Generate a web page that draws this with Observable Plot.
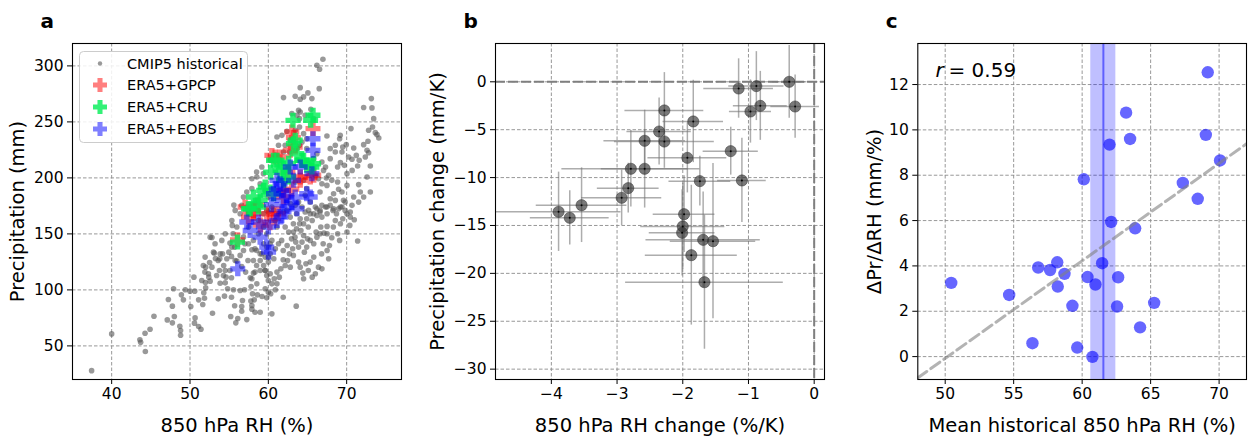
<!DOCTYPE html>
<html><head><meta charset="utf-8">
<script src="https://cdn.jsdelivr.net/npm/d3@7"></script>
<script src="https://cdn.jsdelivr.net/npm/@observablehq/plot@0.6"></script>
<style>
body{margin:0;background:#fff;}
#wrap{position:relative;width:1250px;height:437px;font-family:"DejaVu Sans";}
.panel{position:absolute;top:0;}
</style></head><body><div id="wrap"></div>
<script>
// ---------- Panel a data: [850 hPa RH (%), precipitation (mm)] ----------
const cmip5 = [
[37.44,27.9],[40.0,60.7],[43.7,53.3],[43.6,55.5],[44.3,45.0],[44.26,61.3],[44.9,64.9],[45.4,76.5],[47.1,73.2],[47.75,70.6],[48.0,76.2],[47.75,85.5],[47.24,91.4],[47.9,101],[48.9,95.6],[49.16,91.1],[48.7,67.6],[48.8,63.7],[48.8,59.5],[49.4,100.1],[50.1,85.2],[50.5,111.4],[50.65,75.0],[50.57,70.3],[51.1,67.3],[51.4,64.9],[51.1,91.1],[51.76,97.4],[51.85,92.6],[51.63,87.0],[50.0,98.9],[50.6,98.9],[52.0,101.8],[51.97,106.6],[51.9,115.9],[52.4,111.4],[52.57,107.8],[52.87,79.2],[52.8,146.8],[53.1,132.8],[52.5,124.5],[52.0,120.3],[53.4,112.9],[53.6,92.0],[54.15,132.2],[54.3,121.8],[54.5,106.3],[54.4,94.4],[54.6,111.4],[53.85,106.0],[54.8,101],[55.2,76.2],[55.3,93.5],[55.3,110.8],[55.55,100.1],[55.7,85.8],[55.85,70.6],[56.1,74.4],[56.4,99.5],[56.7,90.5],[56.6,81],[56.96,100.1],[56.6,85.2],[57.25,73.5],[57.77,90],[57.9,82.8],[57.98,96.5],[57.8,103],[54.96,133.7],[55.3,129.9],[55.7,138.2],[55.1,141.8],[55.5,150.1],[55.4,157.6],[55.6,175.7],[55.98,125.7],[56.6,120.9],[57.1,115.9],[57.4,126.3],[57.7,110.8],[58.1,115.0],[57.9,135.8],[57.0,141.2],[53.8,127.8],[53.25,128.1],[54.5,117.3],[53.76,117.3],
[71.4,143.6],[70.04,151.6],[70.4,157.6],[70.97,162.6],[70.46,165],[70.04,168],[69.5,163.5],[69.4,174],[69.8,178.4],[68.97,172.5],[69.1,144.2],[68.85,150.1],[68.1,146.5],[67.8,139.7],[67.5,135.2],[67.0,141.2],[66.6,150.1],[67.1,150.7],[67.5,156.7],[66.7,156.1],[66.1,151.6],[66.2,147.1],[66.8,132.2],[67.7,127.8],[66.4,120.3],[66.84,118.8],[66.0,114.4],[65.6,111.4],[65.1,117.3],[65.35,124.8],[65.8,129.3],[64.8,123.3],[64.5,109.9],[64.4,115],[64.07,120.3],[63.86,124.8],[64.6,133.7],[64.9,138.2],[65.35,144.2],[65.8,141.2],[65.0,145.6],[64.5,148.6],[64.16,153.1],[64.0,159.1],[63.6,154.6],[63.2,151.6],[62.96,145.6],[63.5,142.7],[63.86,138.2],[63.1,136.7],[62.7,132.2],[63.2,130.8],[62.45,126.3],[61.9,126.9],[62.15,121.8],[62.8,120.3],[61.6,118.8],[61.1,115.9],[61.4,111.4],[60.75,109.9],[61.1,105.4],[60.45,105.4],[60.0,108.4],[59.8,112.9],[59.6,117.3],[59.4,121.8],[58.96,117.3],[58.5,121.8],[58.1,126.3],[58.3,115.9],[57.9,109.9],[58.53,105.4],[59.6,101],[60.0,98],[60.9,100.1],[61.9,93.5],[60.3,96.5],[59.8,92.9],[59.2,94.1],[58.6,95.6],[58.2,91.1],[57.9,86.1],[58.3,80.1],[58.96,80.1],[60.45,78.6],[63.56,85.5],[61.3,141.2],[61.7,144.2],[61.9,135.2],[60.9,136.7],[60.24,132.2],[60.7,127.8],[60.0,124.8],[59.6,129.3],[58.96,132.2],[58.5,135.2],[59.4,141.2],[60.24,141.2],[62.6,151.6],[62.15,156.1],[63.2,159.1],[64.07,163.5],[64.5,159.1],[65.1,156.1],[65.6,162],[66.2,166.5],[66.84,165],[67.5,168],[67.9,175.5],[67.3,174],[66.6,171],[66.0,174],[65.35,168],[64.7,169.5],[64.9,163.5],[67.5,150.1],[68.3,156.1],[68.55,162],[69.2,159.1],[68.7,168],[68.25,171],[62.8,165],[63.6,168],[63.4,147.1],[62.4,139.7],[64.3,142.7],
[66.97,306],[66.2,300.6],[66.54,297],[66.5,279.7],[64.07,280.6],[65.05,275.9],[65.56,270.8],[64.5,272.3],[64.07,270.2],[63.43,272.9],[61.94,271.7],[65.43,261.3],[65.78,252.9],[67.48,237.4],[69.1,235.0],[69.5,227.6],[70.55,244],[69.95,229.7],[70.9,226.7],[71.23,220.1],[70.68,216.6],[69.2,213.6],[68.84,209.7],[69.7,211.2],[70.25,218.7],[72.17,229.7],[72.72,232.7],[72.6,224.6],[72.38,218.7],[72.8,222.5],[73.02,210.6],[72.17,262.8],[73.15,270.8],[73.23,262.5],[73.45,252.9],[72.8,242.5],[73.3,245.5],[73.66,240.4],[74.1,235.6],[73.87,238.6],[71.6,215.7],[71.4,210.6],[70.7,206.7],[70.04,203.8],[72.6,200.8],[71.53,194],[73.02,187.4],[71.74,187.4],[70.9,182.9],[70.04,193.3],[69.4,187.4],[69.6,180.0],[68.84,196.3],[68.97,189.8],[68.33,185.9],[67.9,181.4],[67.4,199.9],[67.48,193.3],[66.84,194.8],[66.6,187.4],[66.84,175.5],[67.48,174],[68.33,172.5],[69.2,174],[69.8,171],[70.68,175.5],[70.46,169.5],[71.53,178.4],[72.17,182.9],[68.55,179.9],[66.2,172.5],[66.6,169.5],[65.78,168],[69.18,238],[67.05,206.7],[67.7,202.3],[66.4,199.3],[66.0,202.3],[65.78,217.2],[65.43,211.2],[64.9,190.4],[64.7,184.4],[65.35,178.4],[65.14,171],[64.3,174],[63.86,178.4],[63.43,175.5],[62.8,177],[62.37,171],[61.94,169.5],[61.3,168],[60.66,171],[60.02,169.5],[59.38,168],[58.7,171],[58.3,172.5],[57.9,199.3],[58.53,200.8],[59.38,203.8],[60.24,215.7],[60.9,220.1],[61.3,229.1],[62.15,229.1],[62.7,223.1],[61.94,223.1],[63.65,226.1],[63.98,229.1],[63.43,242.5],[63.98,245.5],[63.98,252.9],[63.65,255.9],[63.0,257.4],[63.86,260.4],[64.7,255.9],[64.07,258.9],[61.73,238],[61.1,236.5],[62.37,241.6],[62.8,233.6],[64.5,239.5],[64.9,235],[64.3,232.1],[64.9,226.1],[66.2,221.6],[66.84,214.2],[67.3,209.7],[67.9,217.2],[68.55,223.1],[68.55,229.1],[67.9,226.1],[69.4,223.1],[61.94,199.3],[63.43,196.3],[64.5,197.8],[68.1,197.8],
[51.5,108.4],[52.35,114.4],[52.8,120.3],[51.7,121.8],[51.93,129.3],[53.0,133.7],[53.85,132.2],[53.6,126.3],[54.7,127.8],[53.2,141.2],[52.57,147.1],[54.06,144.2],[54.5,150.1],[55.34,138.2],[55.98,156.1],[55.34,162],[55.77,171],[56.4,168],[56.6,175.5],[56.83,182.9],[57.25,187.4],[57.9,190.4],[57.25,174],[57.68,168],[58.3,177],[58.75,162],[57.47,156.1],[56.83,147.1],[57.47,141.2],[56.83,135.2],[56.4,130.8],[55.77,126.3],[55.1,117.3],[54.27,112.9],[58.1,144.2],[58.75,150.1],[59.4,156.1],[59.8,150.1],[58.3,136.7],[59.17,132.2],[59.8,138.2],[58.96,126.3],[59.6,117.3],[60.24,114.4],[60.0,129.3],[60.45,144.2],[61.1,156.1],[60.87,162],[59.8,171],[60.45,174],[60.0,182.9],[59.6,188.9],[58.5,205.3],[59.17,209.7],[58.96,194.8]
];
const era5gpcp = [[65.7,244],[63.0,241],[63.43,227.6],[62.8,224.6],[56.06,144.7],[57.04,174],[60.45,220.1],[61.5,218.7],[64.07,200.8],[65.8,202.3],[59.8,168],[61.3,168],[58.1,171],[61.94,188.9],[60.87,218.7],[57.47,165],[58.1,168],[60.66,168],[61.94,182.9],[65.35,200.8],[64.07,197.8],[63.2,236],[62.5,205],[60.2,160],[59.0,158],[63.0,190],[58.6,176]];
const era5cru = [[65.7,255.9],[63.14,251.4],[63.2,230.6],[63.43,233.6],[56.06,142.7],[57.68,172.5],[59.6,191.8],[61.1,215.7],[61.94,209.7],[62.58,200.8],[64.9,211.2],[63.65,221.6],[65.56,209.7],[64.3,215.7],[58.96,179.9],[58.75,174],[60.66,185.9],[61.94,197.8],[60.66,215.7],[61.5,206.7],[58.1,182.9],[57.47,172.5],[59.4,188.9],[64.5,215.7],[65.78,212.7],[65.4,251.5],[60.3,205],[62.6,213]];
const era5eobs = [[65.7,235],[65.7,224.6],[65.56,203.8],[65.35,182.9],[56.1,118.8],[59.8,138.2],[58.96,147.1],[57.68,153.1],[57.25,160.6],[58.75,160.6],[60.0,156.1],[61.1,162],[62.37,174],[63.43,182.9],[61.5,194.8],[61.94,188.9],[63.22,197.8],[61.1,197.8],[62.8,209.7],[64.07,209.7],[61.73,179.9],[60.66,185.9],[63.65,172.5],[64.9,185.9],[60.03,133.7],[62.0,170],[61.0,190],[62.3,184],[60.4,176],[63.0,178],[61.6,165]];
const legendLabels = ["CMIP5 historical","ERA5+GPCP","ERA5+CRU","ERA5+EOBS"];
const ticksAx = [40,50,60,70], ticksAy = [50,100,150,200,250,300];

// ---------- Panel b data ----------
const bRH    = [-3.89,-3.72,-3.54,-2.93,-2.83,-2.79,-2.58,-2.58,-2.36,-2.28,-2.28,-1.84,-1.93,-1.74,-1.98,-2.0,-2.01,-1.69,-1.54,-1.87,-1.67,-1.27,-1.10,-1.15,-0.97,-0.88,-0.82,-0.38,-0.29];
const bPr    = [-13.57,-14.2,-12.88,-12.11,-11.1,-9.08,-9.08,-6.16,-5.19,-2.99,-6.23,-4.14,-7.94,-10.37,-13.82,-15.1,-15.77,-16.5,-16.64,-18.1,-20.92,-7.24,-10.3,-0.70,-3.10,-0.45,-2.51,0.0,-2.58];
const bRHerr = [0.95,0.6,0.69,0.61,0.47,1.05,0.66,0.62,0.49,0.6,0.76,0.46,0.6,0.47,0.47,0.64,0.5,0.87,0.65,0.7,1.2,0.42,0.37,0.53,0.32,0.42,0.41,0.25,0.37];
const bPrErr = [4.14,2.83,3.9,2.9,2.6,4.0,4.1,3.2,3.5,3.95,2.8,4.3,3.66,2.6,4.0,4.5,4.5,5.0,8.1,7.3,7.0,2.5,4.4,3.1,3.3,3.6,3.6,3.8,3.3];
const ticksBx = [-4,-3,-2,-1,0], ticksBy = [0,-5,-10,-15,-20,-25,-30];

// ---------- Panel c data ----------
const cRH   = [50.44,54.67,56.37,56.79,57.66,58.18,58.71,58.22,59.29,59.64,60.12,60.39,60.75,60.97,61.46,62.0,62.12,62.55,62.63,63.21,63.5,63.87,64.23,65.26,67.35,68.44,69.03,69.17,70.07];
const cSens = [3.25,2.72,0.59,3.93,3.82,4.16,3.65,3.09,2.24,0.40,7.82,3.51,-0.01,3.18,4.12,9.35,5.94,2.21,3.5,10.76,9.6,5.66,1.29,2.37,7.66,6.96,9.78,12.54,8.65];
const obsRH = [61.55], obsRHrange = [[60.63,62.46]];
const rValue = "0.59";
const ticksCx = [50,55,60,65,70], ticksCy = [0,2,4,6,8,10,12];

// ---------- helpers ----------
const FONT = "DejaVu Sans";
const intFmt = d3.format("d");
const plusFilled = {
  draw(ctx, size) {
    const r = Math.sqrt(size / Math.PI), t = r * 0.36;
    ctx.moveTo(-t,-r); ctx.lineTo(t,-r); ctx.lineTo(t,-t); ctx.lineTo(r,-t); ctx.lineTo(r,t); ctx.lineTo(t,t);
    ctx.lineTo(t,r); ctx.lineTo(-t,r); ctx.lineTo(-t,t); ctx.lineTo(-r,t); ctx.lineTo(-r,-t); ctx.lineTo(-t,-t); ctx.closePath();
  }
};
const gridStyle = {stroke: "#8c8c8c", strokeOpacity: 1, strokeWidth: 0.9, strokeDasharray: "3.5,2"};
const style = {fontFamily: FONT, fontSize: "15.5px", color: "black", background: "white", overflow: "visible"};
function common(xt, yt, xLabel, yLabel, yDx, panel) {
  return [
    Plot.frame({stroke: "black", strokeWidth: 1.1}),
    Plot.axisX({ticks: xt, tickSize: 5, tickPadding: 3, label: null, tickFormat: intFmt}),
    Plot.axisY({ticks: yt, tickSize: 5, tickPadding: 4, label: null, tickFormat: intFmt}),
    Plot.text([xLabel], {text: d => d, frameAnchor: "bottom", dy: 52, lineAnchor: "bottom", fontSize: 19.5}),
    Plot.text([yLabel], {text: d => d, frameAnchor: "left", dx: yDx, rotate: -90, textAnchor: "middle", lineAnchor: "middle", fontSize: 19.5}),
    Plot.text([panel], {text: d => d, frameAnchor: "top-left", dx: -32, dy: -16, textAnchor: "start", lineAnchor: "bottom", fontWeight: "bold", fontSize: 20})
  ];
}
const wrap = document.getElementById("wrap");
function place(svg, left) { const d = document.createElement("div"); d.className = "panel"; d.style.left = left + "px"; d.appendChild(svg); wrap.appendChild(d); }

// ---------- Panel a ----------
const colA = {gpcp: "#ff0000", cru: "#00ee55", eobs: "#0000ff"};
const svgA = Plot.plot({
  width: 420, height: 437, marginLeft: 72, marginRight: 19, marginTop: 43, marginBottom: 58,
  x: {domain: [35, 77]}, y: {domain: [20, 320]}, style,
  marks: [
    Plot.gridX(ticksAx, gridStyle), Plot.gridY(ticksAy, gridStyle),
    Plot.dot(cmip5, {x: d => d[0], y: d => d[1], r: 2.8, fill: "#555", fillOpacity: 0.6, stroke: "none"}),
    Plot.dot(era5gpcp, {x: d => d[0], y: d => d[1], r: 7.5, symbol: plusFilled, fill: colA.gpcp, fillOpacity: 0.5, stroke: "none"}),
    Plot.dot(era5cru, {x: d => d[0], y: d => d[1], r: 7.5, symbol: plusFilled, fill: colA.cru, fillOpacity: 0.8, stroke: "none"}),
    Plot.dot(era5eobs, {x: d => d[0], y: d => d[1], r: 7.5, symbol: plusFilled, fill: colA.eobs, fillOpacity: 0.5, stroke: "none"}),
    ...common(ticksAx, ticksAy, "850 hPa RH (%)", "Precipitation (mm)", -54.5, "a")
  ]
});
// legend
{
  const g = d3.select(svgA).append("g").attr("font-family", FONT).attr("font-size", 14.5).attr("text-anchor", "start");
  g.append("rect").attr("x", 79.5).attr("y", 51.5).attr("width", 168).attr("height", 91).attr("rx", 4)
    .attr("fill", "white").attr("fill-opacity", 0.85).attr("stroke", "#cccccc");
  const ys = [63.5, 85, 107, 129];
  const syms = [null, [colA.gpcp, 0.5], [colA.cru, 0.8], [colA.eobs, 0.5]];
  legendLabels.forEach((lab, i) => {
    if (i === 0) g.append("circle").attr("cx", 100).attr("cy", ys[i]).attr("r", 2.2).attr("fill", "#555").attr("fill-opacity", 0.6);
    else g.append("path").attr("transform", `translate(100,${ys[i]})`).attr("d", d3.symbol(plusFilled, 7 * 7 * Math.PI)())
      .attr("fill", syms[i][0]).attr("fill-opacity", syms[i][1]);
    g.append("text").attr("x", 127).attr("y", ys[i]).attr("dy", "0.35em").attr("text-anchor", "start").text(lab);
  });
}
place(svgA, 0);

// ---------- Panel b ----------
const bData = bRH.map((x, i) => ({x, y: bPr[i], xe: bRHerr[i], ye: bPrErr[i]}));
const svgB = Plot.plot({
  width: 420, height: 437, marginLeft: 75, marginRight: 16, marginTop: 43, marginBottom: 58,
  x: {domain: [-4.85, 0.157]}, y: {domain: [-31.08, 4.0]}, style,
  marks: [
    Plot.gridX(ticksBx, gridStyle), Plot.gridY(ticksBy, gridStyle),
    Plot.ruleY([0], {stroke: "#7f7f7f", strokeWidth: 2, strokeDasharray: "10,3", clip: true}),
    Plot.ruleX([0], {stroke: "#7f7f7f", strokeWidth: 2, strokeDasharray: "10,3", clip: true}),
    Plot.ruleX(bData, {x: "x", y1: d => d.y - d.ye, y2: d => d.y + d.ye, stroke: "#777", strokeOpacity: 0.6, strokeWidth: 1.5, clip: true}),
    Plot.ruleY(bData, {y: "y", x1: d => d.x - d.xe, x2: d => d.x + d.xe, stroke: "#777", strokeOpacity: 0.6, strokeWidth: 1.5, clip: true}),
    Plot.dot(bData, {x: "x", y: "y", r: 5.6, fill: "#333", fillOpacity: 0.65, stroke: "#333", strokeOpacity: 0.5, strokeWidth: 1}),
    Plot.dot(bData, {x: "x", y: "y", r: 1, fill: "black", stroke: "none"}),
    ...common(ticksBx, ticksBy, "850 hPa RH change (%/K)", "Precipitation change (mm/K)", -57.5, "b")
  ]
});
place(svgB, 420);

// ---------- Panel c ----------
const xDomainC = [48, 72];
const mx = d3.mean(cRH), my = d3.mean(cSens);
const slope = d3.sum(cRH, (x, i) => (x - mx) * (cSens[i] - my)) / d3.sum(cRH, x => (x - mx) ** 2);
const fitLine = xDomainC.map(x => ({x, y: my + slope * (x - mx)}));
const cData = cRH.map((x, i) => ({x, y: cSens[i]}));
const svgC = Plot.plot({
  width: 410, height: 437, marginLeft: 77.3, marginRight: 4, marginTop: 43, marginBottom: 58,
  x: {domain: xDomainC}, y: {domain: [-1.01, 13.81]}, style,
  marks: [
    Plot.gridX(ticksCx, gridStyle), Plot.gridY(ticksCy, gridStyle),
    Plot.rect(obsRHrange, {x1: d => d[0], x2: d => d[1], fill: "blue", fillOpacity: 0.25}),
    Plot.ruleX(obsRH, {stroke: "blue", strokeOpacity: 0.5, strokeWidth: 2}),
    Plot.dot(cData, {x: "x", y: "y", r: 6.2, fill: "blue", fillOpacity: 0.6, stroke: "none"}),
    Plot.line(fitLine, {x: "x", y: "y", stroke: "gray", strokeOpacity: 0.6, strokeWidth: 3, strokeDasharray: "11,5", clip: true}),
    Plot.text(["r"], {text: d => d, frameAnchor: "top-left", dx: 17.7, dy: 33, lineAnchor: "bottom", textAnchor: "start", fontStyle: "italic", fontSize: 20}),
    Plot.text([`= ${rValue}`], {text: d => d, frameAnchor: "top-left", dx: 30.7, dy: 33, lineAnchor: "bottom", textAnchor: "start", fontSize: 20}),
    ...common(ticksCx, ticksCy, "Mean historical 850 hPa RH (%)", "ΔPr/ΔRH (mm/%)", -43.3, "c")
  ]
});
place(svgC, 840);
</script></body></html>
